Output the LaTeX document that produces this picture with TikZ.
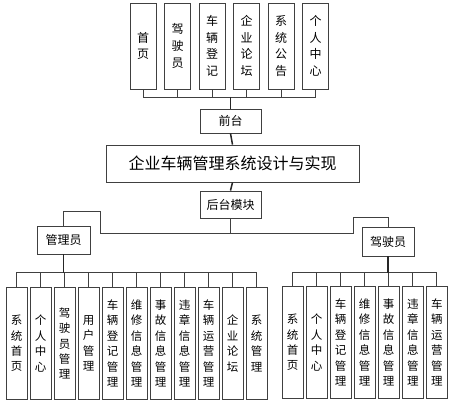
\documentclass[tikz,border=0pt]{standalone}
\usepackage{fontspec}
\setmainfont{Noto Sans CJK SC}
\begin{document}
\begin{tikzpicture}[x=1pt, y=-1pt]
			    \tikzstyle{edge}=[draw,line width = .8pt,-,black!75]
			    \tikzstyle{trunk}=[draw,line width = 1.5pt,-,black!85]
			    \tikzstyle{box}=[draw=black!75,line width = .8pt,fill=white,inner sep=0pt,align=center]
			    \tikzstyle{tall}=[box,minimum width=26pt,minimum height=86pt,font=\fontsize{12}{16.6}\selectfont]
			    \tikzstyle{slim}=[box,minimum width=21pt,minimum height=112pt,font=\fontsize{11.5}{15.4}\selectfont]
			    \useasboundingbox (0,0) rectangle (458,409);
			    % front end
			    \foreach \t [count=\i] in {{首\\页},{驾\\驶\\员},{车\\辆\\登\\记},{企\\业\\论\\坛},{系\\统\\公\\告},{个\\人\\中\\心}}
			        \node[tall] (f\i) at ({143+34.5*(\i-1)},46) {\t};
			    \node[box,minimum width=61pt,minimum height=24pt,font=\fontsize{12}{14}\selectfont] (front) at (230.5,121) {前台};
			    \node[box,minimum width=253pt,minimum height=37pt,font=\fontsize{16}{18}\selectfont] (title) at (232.5,163.5) {企业车辆管理系统设计与实现};
			    \node[box,minimum width=61pt,minimum height=27pt,font=\fontsize{12}{14}\selectfont] (back) at (230.5,204.5) {后台模块};
			    \node[box,minimum width=53pt,minimum height=28pt,font=\fontsize{12}{14}\selectfont] (admin) at (63.5,240) {管理员};
			    \node[box,minimum width=52pt,minimum height=29pt,font=\fontsize{12}{14}\selectfont] (driver) at (388,241.5) {驾驶员};
			    % back end modules
			    \foreach \t [count=\i] in {{系\\统\\首\\页},{个\\人\\中\\心},{驾\\驶\\员\\管\\理},{用\\户\\管\\理},{车\\辆\\登\\记\\管\\理},{维\\修\\信\\息\\管\\理},{事\\故\\信\\息\\管\\理},{违\\章\\信\\息\\管\\理},{车\\辆\\运\\营\\管\\理},{企\\业\\论\\坛},{系\\统\\管\\理}}
			        \node[slim] (a\i) at ({16.5+24*(\i-1)},343.5) {\t};
			    \foreach \t [count=\i] in {{系\\统\\首\\页},{个\\人\\中\\心},{车\\辆\\登\\记\\管\\理},{维\\修\\信\\息\\管\\理},{事\\故\\信\\息\\管\\理},{违\\章\\信\\息\\管\\理},{车\\辆\\运\\营\\管\\理}}
			        \node[slim] (d\i) at ({292.5+24.05*(\i-1)},342.5) {\t};
			    % connectors
			    \coordinate (fbus) at (230.5,97);
			    \coordinate (mbus) at (230.5,233);
			    \coordinate (lturn) at (100,211);
			    \coordinate (rturn) at (353,217);
			    \coordinate (abus) at (63.5,272.5);
			    \coordinate (dbus) at (388,272.5);
			    \foreach \i in {1,...,6} \draw[edge] (f\i.south) |- (fbus);
			    \draw[trunk] (fbus) -- (front.north);
			    \draw[trunk] (front.south) -- (title.north);
			    \draw[trunk] (title.south) -- (back.north);
			    \draw[edge] (back.south) -- (mbus);
			    \draw[edge] (mbus) -| (lturn) -| (admin.north);
			    \draw[edge] (mbus) -| (rturn) -| (driver.north);
			    \foreach \i in {1,...,11} \draw[edge] (a\i.north) |- (abus);
			    \foreach \i in {1,...,7} \draw[edge] (d\i.north) |- (dbus);
			    \draw[trunk] (admin.south) -- (abus);
			    \draw[trunk] (driver.south) -- (dbus);
			\end{tikzpicture}
\end{document}
